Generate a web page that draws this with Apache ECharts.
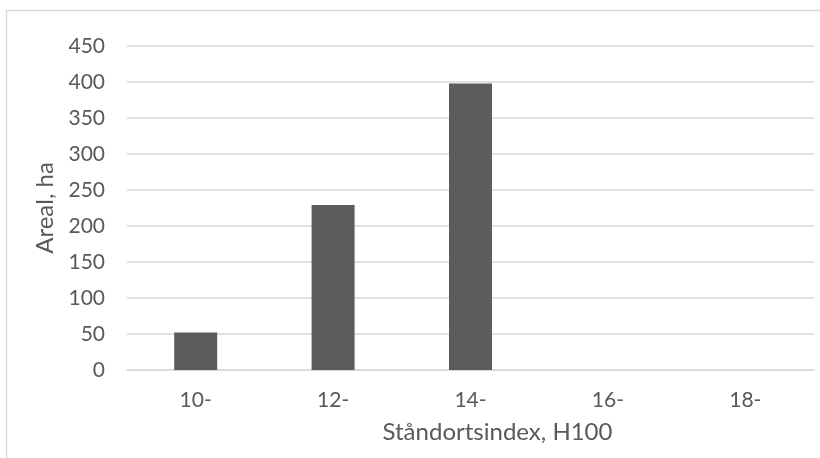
<!DOCTYPE html>
<html>
<head>
<meta charset="utf-8">
<script src="https://cdn.jsdelivr.net/npm/echarts@6/dist/echarts.min.js"></script>
<style>html,body{margin:0;padding:0;background:#fff;}#c{width:820px;height:458px;}</style>
</head>
<body>
<div id="c"></div>
<script>
const categories = ['10-', '12-', '14-', '16-', '18-'];
const areaValues = [52, 229, 398, 0, 0];
const yTicks = [0, 50, 100, 150, 200, 250, 300, 350, 400, 450];
const xTitle = 'Ståndortsindex, H100';
const yTitle = 'Areal, ha';

const FONT = "Lato, 'Open Sans', sans-serif";
const chart = echarts.init(document.getElementById('c'), null, {renderer: 'canvas'});
chart.setOption({
  animation: false,
  backgroundColor: '#fff',
  graphic: [{
    type: 'rect', shape: {x: 6.5, y: 10.5, width: 840, height: 480},
    style: {fill: 'none', stroke: '#d9d9d9', lineWidth: 1.5}, silent: true
  }],
  grid: {left: 127, right: 6, top: 46, bottom: 88},
  xAxis: {
    type: 'category', data: categories,
    axisLine: {show: true, lineStyle: {color: '#d9d9d9', width: 1.5}},
    axisTick: {show: false},
    axisLabel: {color: '#595959', fontSize: 21, fontFamily: FONT, margin: 20},
    name: xTitle, nameLocation: 'middle', nameGap: 50,
    nameTextStyle: {color: '#595959', fontSize: 24, fontFamily: FONT, padding: [0, 0, 0, 54]}
  },
  yAxis: {
    type: 'value', min: yTicks[0], max: yTicks[yTicks.length - 1], interval: 50,
    axisLine: {show: false}, axisTick: {show: false},
    splitLine: {lineStyle: {color: '#d9d9d9', width: 1.5}},
    axisLabel: {color: '#595959', fontSize: 21, fontFamily: FONT, margin: 22},
    name: yTitle, nameLocation: 'middle', nameGap: 68, nameRotate: 90,
    nameTextStyle: {color: '#595959', fontSize: 24, fontFamily: FONT}
  },
  series: [{
    type: 'bar', data: areaValues, barWidth: 43,
    itemStyle: {color: '#5c5c5c'}
  }]
});
</script>
</body>
</html>
